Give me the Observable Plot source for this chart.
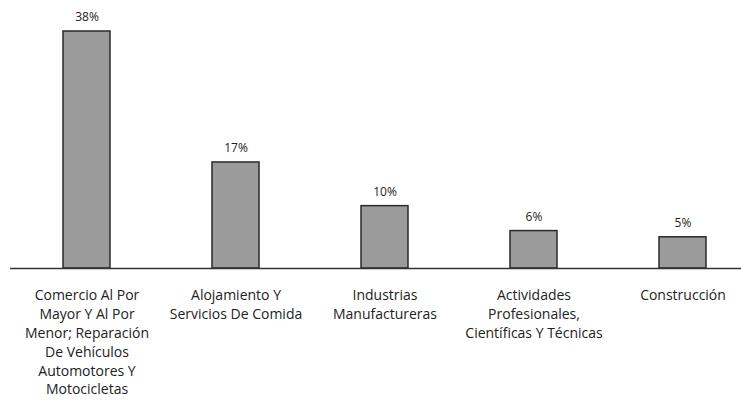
<!DOCTYPE html>
<html>
<head>
<meta charset="utf-8">
<script src="https://cdn.jsdelivr.net/npm/d3@7"></script>
<script src="https://cdn.jsdelivr.net/npm/@observablehq/plot@0.6"></script>
<style>
  html, body { margin: 0; padding: 0; background: #fff; }
  #chart svg { display: block; }
</style>
</head>
<body>
<div id="chart"></div>
<script>
const categories = [
  "Comercio Al Por Mayor Y Al Por Menor; Reparación De Vehículos Automotores Y Motocicletas",
  "Alojamiento Y Servicios De Comida",
  "Industrias Manufactureras",
  "Actividades Profesionales, Científicas Y Técnicas",
  "Construcción"
];
const values = [38, 17, 10, 6, 5];
const valueLabels = ["38%", "17%", "10%", "6%", "5%"];
const tickLabels = [
  "Comercio Al Por\nMayor Y Al Por\nMenor; Reparación\nDe Vehículos\nAutomotores Y\nMotocicletas",
  "Alojamiento Y\nServicios De Comida",
  "Industrias\nManufactureras",
  "Actividades\nProfesionales,\nCientíficas Y Técnicas",
  "Construcción"
];

const data = categories.map((c, i) => ({cat: c, value: values[i], label: valueLabels[i], tick: tickLabels[i]}));

const chart = Plot.plot({
  width: 741,
  height: 407,
  marginLeft: 10,
  marginRight: 0,
  marginTop: 31,
  marginBottom: 139,
  style: {fontFamily: "'Open Sans', sans-serif", fontSize: "12px", color: "#222", background: "#fff"},
  x: {domain: categories, range: [10.7, 758.7], paddingInner: 0.682, paddingOuter: 0.341, axis: null},
  y: {domain: [0, 38], range: [268, 31], axis: null},
  marks: [
    Plot.barY(data, {x: "cat", y: "value", fill: "#9b9b9b", stroke: "#2a2a2a", strokeWidth: 1.5}),
    Plot.ruleY([0], {stroke: "#333", strokeWidth: 1.5}),
    Plot.text(data, {x: "cat", y: "value", text: "label", dy: -14, fontSize: 12, fill: "#222"}),
    Plot.text(data, {x: "cat", y: 0, text: "tick", lineAnchor: "top", dy: 18, lineHeight: 1.35, fontSize: 14, fill: "#222"})
  ]
});
document.getElementById("chart").append(chart);
</script>
</body>
</html>
